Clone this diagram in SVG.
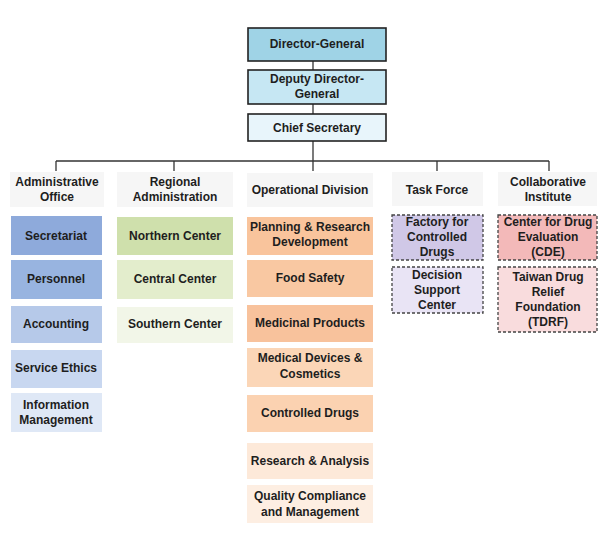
<svg xmlns="http://www.w3.org/2000/svg" width="610" height="543" viewBox="0 0 610 543">
<style>
text{font-family:"Liberation Sans",Arial,sans-serif;font-weight:bold;font-size:12px;fill:#1e1e1e;text-anchor:middle}
.top{stroke:#222;stroke-width:1.6}
.hdr{fill:#f6f6f6}
.dash{stroke:#444;stroke-width:1.3;stroke-dasharray:3 2}
.conn line{stroke:#333;stroke-width:1.3}
</style>
<rect width="610" height="543" fill="#fff"/>
<g class="conn">
<line x1="313" y1="61" x2="313" y2="70"/>
<line x1="313" y1="104" x2="313" y2="114"/>
<line x1="313" y1="141" x2="313" y2="171"/>
<line x1="56" y1="161" x2="549" y2="161"/>
<line x1="56" y1="161" x2="56" y2="171"/>
<line x1="174" y1="161" x2="174" y2="171"/>
<line x1="437" y1="161" x2="437" y2="171"/>
<line x1="549" y1="161" x2="549" y2="171"/>
</g>
<g id="director-general"><rect class="top" x="248" y="28" width="138" height="33" fill="#9fd3e6"/><text x="317" y="48">Director-General</text></g>
<g id="deputy"><rect class="top" x="248" y="70" width="138" height="34" fill="#c6e7f3"/><text x="317" y="83">Deputy Director-</text><text x="317" y="98">General</text></g>
<g id="chief"><rect class="top" x="248" y="114" width="138" height="27" fill="#e8f5fb"/><text x="317" y="132">Chief Secretary</text></g>

<g id="admin-office"><rect class="hdr" x="10" y="172" width="94" height="35"/><text x="57" y="186">Administrative</text><text x="57" y="201">Office</text></g>
<g id="regional-admin"><rect class="hdr" x="117" y="172" width="116" height="35"/><text x="175" y="186">Regional</text><text x="175" y="201">Administration</text></g>
<g id="operational"><rect class="hdr" x="247" y="173" width="126" height="34"/><text x="310" y="194">Operational Division</text></g>
<g id="task-force"><rect class="hdr" x="392" y="172" width="91" height="34"/><text x="437" y="194">Task Force</text></g>
<g id="collab"><rect class="hdr" x="498" y="172" width="99" height="34"/><text x="548" y="186">Collaborative</text><text x="548" y="201">Institute</text></g>

<g id="secretariat"><rect x="11" y="216" width="91" height="39" fill="#8eaadb"/><text x="56" y="240">Secretariat</text></g>
<g id="personnel"><rect x="11" y="260" width="91" height="39" fill="#98b4e0"/><text x="56" y="283">Personnel</text></g>
<g id="accounting"><rect x="11" y="306" width="91" height="37" fill="#b6c9e9"/><text x="56" y="328">Accounting</text></g>
<g id="service-ethics"><rect x="11" y="350" width="91" height="38" fill="#c8d7f0"/><text x="56" y="372">Service Ethics</text></g>
<g id="info-mgmt"><rect x="11" y="393" width="91" height="39" fill="#dfe8f6"/><text x="56" y="409">Information</text><text x="56" y="424">Management</text></g>

<g id="northern"><rect x="117" y="217" width="116" height="38" fill="#cfe0ac"/><text x="175" y="240">Northern Center</text></g>
<g id="central"><rect x="117" y="260" width="116" height="39" fill="#e3edcc"/><text x="175" y="283">Central Center</text></g>
<g id="southern"><rect x="117" y="307" width="116" height="36" fill="#f2f6e8"/><text x="175" y="328">Southern Center</text></g>

<g id="planning"><rect x="247" y="217" width="126" height="38" fill="#f9c49c"/><text x="310" y="231">Planning &amp; Research</text><text x="310" y="246">Development</text></g>
<g id="food-safety"><rect x="247" y="260" width="126" height="37" fill="#f9c8a2"/><text x="310" y="282">Food Safety</text></g>
<g id="medicinal"><rect x="247" y="305" width="126" height="37" fill="#f8c29c"/><text x="310" y="327">Medicinal Products</text></g>
<g id="medical-devices"><rect x="247" y="348" width="126" height="39" fill="#fbd6b7"/><text x="310" y="362">Medical Devices &amp;</text><text x="310" y="378">Cosmetics</text></g>
<g id="controlled-drugs"><rect x="247" y="395" width="126" height="37" fill="#fbd2b1"/><text x="310" y="417">Controlled Drugs</text></g>
<g id="research"><rect x="247" y="443" width="126" height="36" fill="#fde9d9"/><text x="310" y="465">Research &amp; Analysis</text></g>
<g id="quality"><rect x="247" y="485" width="126" height="38" fill="#fdeee2"/><text x="310" y="500">Quality Compliance</text><text x="310" y="516">and Management</text></g>

<g id="factory"><rect class="dash" x="392" y="215" width="91" height="45" fill="#d0c8e7"/><text x="437" y="226">Factory for</text><text x="437" y="241">Controlled</text><text x="437" y="256">Drugs</text></g>
<g id="decision"><rect class="dash" x="392" y="267" width="91" height="46" fill="#e9e4f5"/><text x="437" y="279">Decision</text><text x="437" y="294">Support</text><text x="437" y="309">Center</text></g>

<g id="cde"><rect class="dash" x="498" y="215" width="99" height="45" fill="#f3b9b9"/><text x="548" y="226">Center for Drug</text><text x="548" y="241">Evaluation</text><text x="548" y="256">(CDE)</text></g>
<g id="tdrf"><rect class="dash" x="498" y="267" width="99" height="65" fill="#f9dcdd"/><text x="548" y="281">Taiwan Drug</text><text x="548" y="296">Relief</text><text x="548" y="311">Foundation</text><text x="548" y="326">(TDRF)</text></g>
</svg>
